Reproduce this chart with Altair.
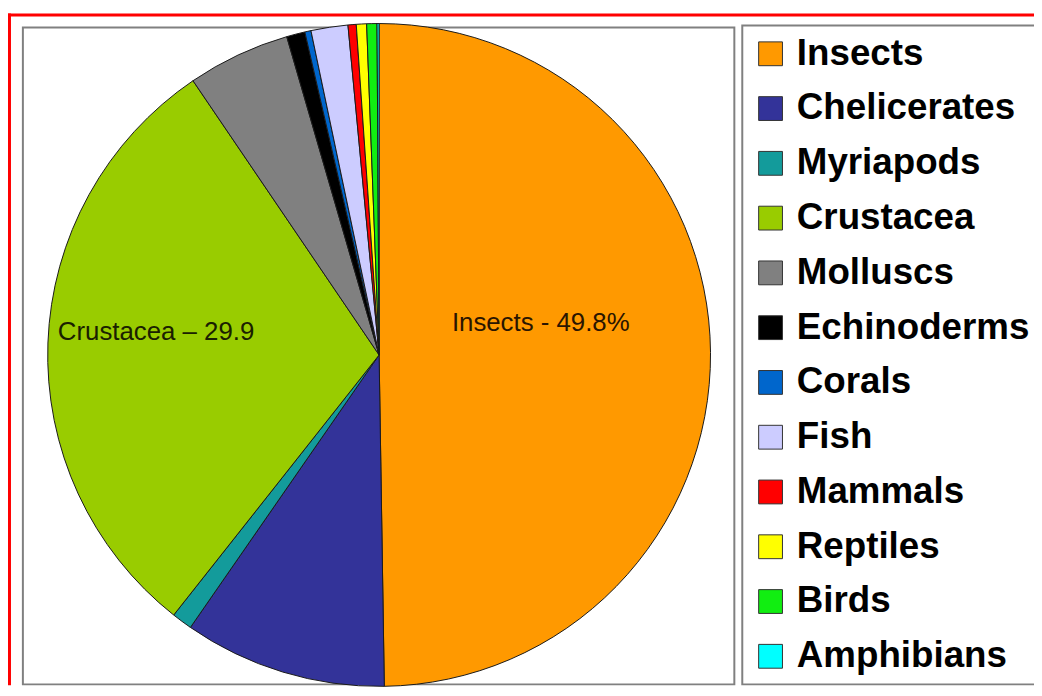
import altair as alt
import pandas as pd

categories = ["Insects", "Chelicerates", "Myriapods", "Crustacea", "Molluscs",
              "Echinoderms", "Corals", "Fish", "Mammals", "Reptiles", "Birds", "Amphibians"]
values = [49.8, 9.9, 1.0, 29.9, 5.0, 0.9, 0.3, 1.8, 0.4, 0.5, 0.5, 0.1]
colors = ["#FF9900", "#333399", "#139B9B", "#99CC00", "#808080", "#000000",
          "#0066CC", "#CCCCFF", "#FF0000", "#FFFF00", "#11EE11", "#00FFFF"]
labels = ["Insects - 49.8%", "", "", "Crustacea \u2013 29.9", "", "", "", "", "", "", "", ""]

df = pd.DataFrame({"category": categories, "value": values,
                   "idx": list(range(len(categories))), "label": labels})
one = pd.DataFrame({"k": [0]})

W, H = 1034, 680
cx, cy = 374, 347
R = 334
FONT = "Liberation Sans"

base = alt.Chart(df).encode(
    theta=alt.Theta("value:Q", stack=True),
    order=alt.Order("idx:Q"),
)

pie = base.mark_arc(radius=R, stroke="#1a1a1a", strokeWidth=1).encode(
    x=alt.value(cx), y=alt.value(cy),
    color=alt.Color(
        "category:N",
        scale=alt.Scale(domain=categories, range=colors),
        sort=categories,
        legend=alt.Legend(
            title=None, orient="none", legendX=740, legendY=15,
            symbolType="square", symbolSize=576,
            symbolStrokeColor="#333333", symbolStrokeWidth=1,
            labelFont=FONT, labelFontWeight="bold", labelFontSize=37,
            labelColor="#000000", labelLimit=500, labelOffset=8,
            rowPadding=17.2, padding=10,
        ),
    ),
)

lab_ins = base.transform_calculate(
    t="datum.category == 'Insects' ? datum.label : ''"
).mark_text(radius=166, thetaOffset=-0.186, font=FONT, fontSize=26,
            color="#2a1500").encode(
    x=alt.value(cx), y=alt.value(cy), text="t:N", detail="category:N")

lab_cru = base.transform_calculate(
    t="datum.category == 'Crustacea' ? datum.label : ''"
).mark_text(radius=226, thetaOffset=0.067, font=FONT, fontSize=26,
            color="#1a2000").encode(
    x=alt.value(cx), y=alt.value(cy), text="t:N", detail="category:N")

frame = alt.Chart(one).mark_rect(filled=False, stroke="#808080", strokeWidth=2).encode(
    x=alt.value(15), x2=alt.value(732), y=alt.value(17), y2=alt.value(679))

red_top = alt.Chart(one).mark_rule(color="#FF0000", strokeWidth=3).encode(
    x=alt.value(0), x2=alt.value(W), y=alt.value(4.5))
red_left = alt.Chart(one).mark_rule(color="#FF0000", strokeWidth=3).encode(
    x=alt.value(1.5), y=alt.value(3), y2=alt.value(H))

chart = alt.layer(frame, pie, lab_ins, lab_cru, red_top, red_left).properties(
    width=W, height=H, padding=0, autosize="none"
).configure_view(strokeWidth=0).configure_legend(
    strokeColor="#808080", strokeWidth=2, fillColor="#FFFFFF"
)

chart.save("out.html", embed_options={"renderer": "svg", "actions": False})
